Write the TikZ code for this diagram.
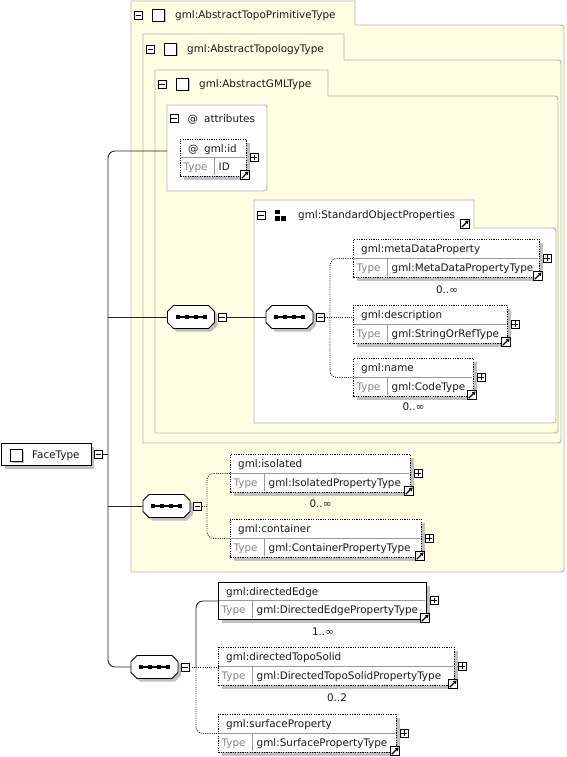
\documentclass[tikz,border=0pt]{standalone}
\usepackage{fontspec}
\setmainfont{DejaVu Sans}
\usetikzlibrary{arrows.meta,calc}

\definecolor{panelfill}{RGB}{255,255,227}
\definecolor{panelline}{RGB}{182,182,172}
\definecolor{shadowc}{RGB}{192,192,192}
\definecolor{typegray}{RGB}{135,135,135}
\definecolor{txt}{RGB}{25,25,25}

\tikzset{
  lbl/.style={inner sep=0, anchor=base west, text=txt, font=\fontsize{10.4}{12}\selectfont},
  typelbl/.style={lbl, text=typegray},
  card/.style={inner sep=0, anchor=base, text=txt, font=\fontsize{10.4}{12}\selectfont},
  pmbox/.style={draw, fill=white, minimum size=8, inner sep=0, line width=0.7},
  arrbox/.style={draw, fill=white, minimum size=9.5, inner sep=0, line width=0.9},
  chk/.style={draw, fill=white, minimum width=12, minimum height=12, inner sep=0, line width=0.9},
  conn/.style={line width=0.9, draw=black!85},
  dotconn/.style={conn, dash pattern=on 1pt off 1.2pt},
  elemsolid/.style={line width=0.9},
  elemdotted/.style={line width=0.9, dash pattern=on 1.2pt off 1.2pt},
  panel/.style={fill=panelfill, draw=panelline, line width=0.9},
  divline/.style={draw=black!40, line width=0.7},
}

\newcommand{\minusmark}[1]{\draw[line width=0.8] ([xshift=1.8]#1.west) -- ([xshift=-1.8]#1.east);}
\newcommand{\plusmark}[1]{\minusmark{#1}\draw[line width=0.8] ([yshift=-1.8]#1.north) -- ([yshift=1.8]#1.south);}
\newcommand{\arrowbox}[3]{%
  \node[arrbox] (#1) at (#2,#3) {};
  \draw[line width=1.1, -{Triangle[length=3.2pt,width=3.6pt]}] ([xshift=2,yshift=2]#1.south west) -- ([xshift=-1.6,yshift=-1.6]#1.north east);
}
\newcommand{\elem}[8]{%
  \pgfmathsetmacro{\elmid}{(#3+#5)/2}%
  \pgfmathsetmacro{\eltd}{#2+34.5}%
  \fill[shadowc] (#2+4,#3+4) rectangle (#4+4,#5+4);
  \node[draw, #8, fill=white, anchor=north west, minimum width=#4-#2, minimum height=#5-#3, inner sep=0] (#1) at (#2,#3) {};
  \draw[divline] (#2+0.6,\elmid) -- (#4-0.6,\elmid);
  \draw[divline] (\eltd,\elmid) -- (\eltd,#5-0.6);
  \node[lbl] (#1-n) at (#2+8,{(#3+\elmid)/2+4}) {#6};
  \node[typelbl] (#1-t) at (#2+3.5,{(\elmid+#5)/2+4}) {Type};
  \node[lbl] (#1-v) at (\eltd+4,{(\elmid+#5)/2+4}) {#7};
  \node[pmbox] (#1-p) at (#4+8,\elmid) {}; \plusmark{#1-p}
  \arrowbox{#1-a}{#4-1}{#5-1}
}
\newcommand{\seqnode}[3]{%
  \node[inner sep=0, minimum width=47, minimum height=23] (#1) at (#2,#3) {};
  \begin{scope}[shift={(#2,#3)}]
    \fill[shadowc] (-14.5,-8.5) -- (20.5,-8.5) -- (26.5,-2.5) -- (26.5,8.5) -- (20.5,14.5) -- (-14.5,14.5) -- (-20.5,8.5) -- (-20.5,-2.5) -- cycle;
    \draw[line width=0.9, fill=white] (-17.5,-11.5) -- (17.5,-11.5) -- (23.5,-5.5) -- (23.5,5.5) -- (17.5,11.5) -- (-17.5,11.5) -- (-23.5,5.5) -- (-23.5,-5.5) -- cycle;
    \draw[line width=1.1] (-13.5,0) -- (13.5,0);
    \foreach \q in {-13.5,-4.5,4.5,13.5} \fill (\q-2,-2) rectangle (\q+2,2);
  \end{scope}
}
\newcommand{\panelshape}[6]{\filldraw[panel] (#1,#6) -- (#1,#2) -- (#3,#2) -- (#3,#4) -- (#5-6,#4) .. controls (#5,#4) .. (#5,#4+6) -- (#5,#6-6) .. controls (#5,#6) .. (#5-6,#6) -- cycle;}
\newcommand{\checkbox}[3]{%
  \fill[shadowc] (#2-4.5,#3-4.5) rectangle (#2+7.5,#3+7.5);
  \node[chk] (#1) at (#2,#3) {};
}

\begin{document}
\begin{tikzpicture}[x=1pt,y=-1pt]
\useasboundingbox (0,0) rectangle (566,757);

% panels
\panelshape{131}{1}{355}{25}{564}{572}
\panelshape{143}{34}{344}{60}{561}{443}
\panelshape{155}{70}{328}{96}{558}{433}

% panel headers
\node[pmbox] (p1-m) at (138.5,15) {}; \minusmark{p1-m}
\checkbox{p1-c}{158.5}{15}
\node[lbl] (p1-l) at (175,19) {gml:AbstractTopoPrimitiveType};
\node[pmbox] (p2-m) at (150.5,49) {}; \minusmark{p2-m}
\checkbox{p2-c}{170.5}{49}
\node[lbl] (p2-l) at (187,53) {gml:AbstractTopologyType};
\node[pmbox] (p3-m) at (162,84) {}; \minusmark{p3-m}
\checkbox{p3-c}{182.5}{84}
\node[lbl] (p3-l) at (199,88) {gml:AbstractGMLType};

% attributes group
\filldraw[fill=white, draw=panelline, line width=0.9] (167,105) -- (263,105) .. controls (267,105) .. (267,109) -- (267,183) .. controls (267,191) .. (259,191) -- (167,191) -- cycle;
\node[inner sep=0, minimum width=100, minimum height=86, anchor=north west] (attr) at (167,105) {};
\node[pmbox] (attr-m) at (174,118) {}; \minusmark{attr-m}
\node[lbl] (attr-at) at (187.5,122) {@};
\node[lbl] (attr-l) at (204,122) {attributes};
\elem{gid}{180}{139}{246}{176}{@}{ID}{elemdotted}
\node[lbl] (gid-n2) at (204,152) {gml:id};

% standard object properties group
\filldraw[fill=white, draw=panelline, line width=0.9] (254,200) -- (474,200) -- (474,228) -- (550,228) .. controls (556,228) .. (556,234) -- (556,417) .. controls (556,423) .. (550,423) -- (254,423) -- cycle;
\node[pmbox] (sop-m) at (261,215) {}; \minusmark{sop-m}
\fill (275,209.5) rectangle (279.5,214);
\fill (275,216) rectangle (279.5,220.5);
\fill (281,216) rectangle (285.5,220.5);
\node[lbl] (sop-l) at (298,218) {gml:StandardObjectProperties};
\arrowbox{sop-a}{465}{224}

\elem{md}{353}{239}{539}{277}{gml:metaDataProperty}{gml:MetaDataPropertyType}{elemdotted}
\node[card] (md-c) at (447,293) {0..∞};
\elem{desc}{353}{305}{507}{343}{gml:description}{gml:StringOrRefType}{elemdotted}
\elem{nm}{353}{358}{473}{396}{gml:name}{gml:CodeType}{elemdotted}
\node[card] (nm-c) at (413.5,410) {0..∞};

\elem{iso}{230}{454}{410}{492}{gml:isolated}{gml:IsolatedPropertyType}{elemdotted}
\node[card] (iso-c) at (320.5,507) {0..∞};
\elem{cont}{230}{519}{421}{557}{gml:container}{gml:ContainerPropertyType}{elemdotted}

\elem{de}{218}{582}{426}{619}{gml:directedEdge}{gml:DirectedEdgePropertyType}{elemsolid}
\node[card] (de-c) at (323,635) {1..∞};
\elem{dts}{218}{647}{454}{685}{gml:directedTopoSolid}{gml:DirectedTopoSolidPropertyType}{elemdotted}
\node[card] (dts-c) at (337,701) {0..2};
\elem{sp}{218}{714}{396}{752}{gml:surfaceProperty}{gml:SurfacePropertyType}{elemdotted}

% FaceType
\fill[shadowc] (5,447) rectangle (94,469);
\node[draw, line width=0.9, fill=white, anchor=north west, minimum width=90, minimum height=22, inner sep=0] (face) at (1,443) {};
\checkbox{face-c}{16.5}{455}
\node[lbl] (face-l) at (32,458) {FaceType};
\node[pmbox] (face-m) at (98.5,454) {}; \minusmark{face-m}

% sequences
\seqnode{seqA}{191}{317}
\node[pmbox] (mA) at (222,317) {}; \minusmark{mA}
\seqnode{seqB}{289.5}{317}
\node[pmbox] (mB) at (320.5,317) {}; \minusmark{mB}
\seqnode{seqC}{166.5}{506}
\node[pmbox] (mC) at (197.5,506) {}; \minusmark{mC}
\seqnode{seqD}{154.5}{667}
\node[pmbox] (mD) at (185,667) {}; \minusmark{mD}

% connectors
\coordinate (trTop) at (108,151);
\draw[conn, rounded corners=7] (attr.west |- trTop) -- (trTop) -- (trTop |- seqD.west) -- (seqD.west);
\draw[conn] (face-m.east) -- (face-m.east -| trTop);
\draw[conn] (seqA.west -| trTop) -- (seqA.west);
\draw[conn] (seqC.west -| trTop) -- (seqC.west);
\draw[conn] (mA.east) -- (seqB.west);

\coordinate (brB) at (330,317);
\draw[dotconn, rounded corners=7] (md.west) -- (md.west -| brB) -- (nm.west -| brB) -- (nm.west);
\draw[dotconn] (mB.east) -- (mB.east -| desc.west);

\coordinate (brC) at (207,506);
\draw[dotconn, rounded corners=7] (iso.west) -- (iso.west -| brC) -- (cont.west -| brC) -- (cont.west);
\draw[dotconn] (mC.east) -- (brC);

\coordinate (brD) at (196,667);
\draw[conn, rounded corners=7] (de.west) -- (de.west -| brD) -- (brD);
\draw[dotconn, rounded corners=7] (brD) -- (sp.west -| brD) -- (sp.west);
\draw[dotconn] (mD.east) -- (mD.east -| dts.west);
\end{tikzpicture}
\end{document}
